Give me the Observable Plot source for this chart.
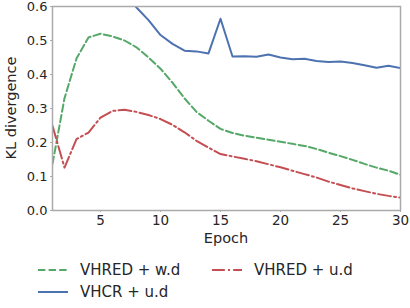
<!DOCTYPE html>
<html>
<head>
<meta charset="utf-8">
<script src="https://cdn.jsdelivr.net/npm/d3@7"></script>
<script src="https://cdn.jsdelivr.net/npm/@observablehq/plot@0.6"></script>
<style>
  html, body { margin: 0; padding: 0; background: #fff; }
  #wrap { position: relative; width: 410px; height: 308px; font-family: "DejaVu Sans", sans-serif; color: #262626; }
  .leg { position: absolute; display: flex; align-items: center; font-size: 15px; white-space: nowrap; }
  .leg svg { margin-right: 12px; }
</style>
</head>
<body>
<div id="wrap"></div>
<script>
const epochs = d3.range(1, 31);
const seriesNames = ["VHRED + w.d", "VHRED + u.d", "VHCR + u.d"];
const vhredWd = [0.137, 0.33, 0.447, 0.509, 0.52, 0.512, 0.50, 0.48, 0.45, 0.417,
                 0.376, 0.33, 0.29, 0.264, 0.24, 0.228, 0.22, 0.214, 0.208, 0.202,
                 0.196, 0.19, 0.181, 0.17, 0.16, 0.149, 0.137, 0.126, 0.117, 0.105];
const vhredUd = [0.249, 0.126, 0.21, 0.229, 0.273, 0.293, 0.296, 0.29, 0.281, 0.269,
                 0.252, 0.23, 0.205, 0.185, 0.166, 0.159, 0.152, 0.145, 0.136, 0.127,
                 0.117, 0.107, 0.097, 0.085, 0.075, 0.065, 0.057, 0.049, 0.043, 0.038];
const vhcrUd  = [1.3, 1.1, 0.95, 0.85, 0.77, 0.7, 0.64, 0.597, 0.56, 0.516,
                 0.49, 0.47, 0.468, 0.462, 0.564, 0.453, 0.454, 0.452, 0.459, 0.45,
                 0.445, 0.446, 0.44, 0.437, 0.438, 0.434, 0.427, 0.42, 0.426, 0.419];
const xTicks = [5, 10, 15, 20, 25, 30];
const yTicks = [0, 0.1, 0.2, 0.3, 0.4, 0.5, 0.6];

const colors = {"VHRED + w.d": "#55a868", "VHRED + u.d": "#c44e52", "VHCR + u.d": "#4c72b0"};
const dashes = {"VHRED + w.d": "7.4,3.2", "VHRED + u.d": "12.8,3.2,2,3.2", "VHCR + u.d": null};

const rows = (name, vals) => epochs.map((e, i) => ({epoch: e, value: vals[i], series: name}));
const wd = rows(seriesNames[0], vhredWd);
const ud = rows(seriesNames[1], vhredUd);
const cr = rows(seriesNames[2], vhcrUd);

const chart = Plot.plot({
  width: 410,
  height: 250,
  marginLeft: 52,
  marginRight: 10,
  marginTop: 6,
  marginBottom: 40,
  style: {fontFamily: "DejaVu Sans, sans-serif", fontSize: "13px", color: "#262626", background: "#fff"},
  x: {domain: [1, 30]},
  y: {domain: [0, 0.6]},
  marks: [
    Plot.line(wd, {x: "epoch", y: "value", stroke: colors[seriesNames[0]], strokeWidth: 2, strokeDasharray: dashes[seriesNames[0]], clip: true}),
    Plot.line(ud, {x: "epoch", y: "value", stroke: colors[seriesNames[1]], strokeWidth: 2, strokeDasharray: dashes[seriesNames[1]], clip: true}),
    Plot.line(cr, {x: "epoch", y: "value", stroke: colors[seriesNames[2]], strokeWidth: 2, clip: true}),
    Plot.frame({stroke: "#aaaaaa", strokeWidth: 1.5}),
    Plot.axisX({ticks: xTicks, tickSize: 2, tickPadding: 3, stroke: "#aaaaaa", label: null, fontSize: 13.5}),
    Plot.axisY({ticks: yTicks, tickSize: 2, tickPadding: 3, stroke: "#aaaaaa", tickFormat: d3.format(".1f"), label: null, fontSize: 13})
  ]
});

const svg = d3.select(chart);
svg.append("text").attr("x", 226).attr("y", 243).attr("text-anchor", "middle")
  .attr("font-size", 14.5).attr("fill", "#262626").text("Epoch");
svg.append("text").attr("transform", "translate(16,108) rotate(-90)").attr("text-anchor", "middle")
  .attr("font-size", 14.5).attr("fill", "#262626").text("KL divergence");

const wrap = document.getElementById("wrap");
wrap.appendChild(chart);

function legendItem(name, left, top) {
  const div = document.createElement("div");
  div.className = "leg";
  div.style.left = left + "px";
  div.style.top = top + "px";
  const s = d3.create("svg").attr("width", 30).attr("height", 10);
  s.append("line").attr("x1", 0).attr("x2", 30).attr("y1", 5).attr("y2", 5)
    .attr("stroke", colors[name]).attr("stroke-width", 2)
    .attr("stroke-dasharray", dashes[name]);
  div.appendChild(s.node());
  const t = document.createElement("span");
  t.textContent = name;
  div.appendChild(t);
  wrap.appendChild(div);
}
legendItem(seriesNames[0], 38, 261);
legendItem(seriesNames[1], 212, 261);
legendItem(seriesNames[2], 38, 283);
</script>
</body>
</html>
